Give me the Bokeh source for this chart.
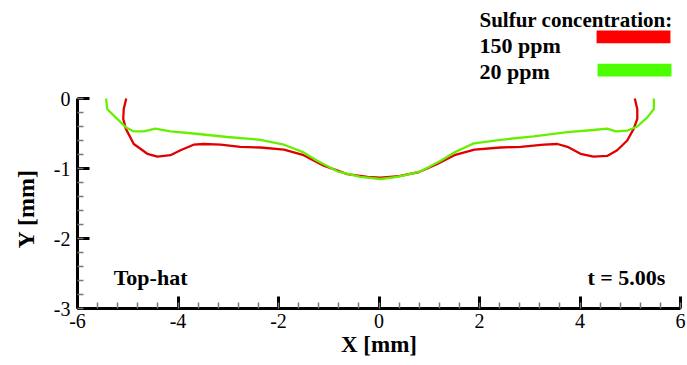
import math
from bokeh.plotting import figure
from bokeh.models import Range1d, SingleIntervalTicker, Label, CustomJSTickFormatter, Title
from bokeh.embed import file_html
from bokeh.resources import INLINE

# ---- data ----
red_x = [-5.03, -5.08, -5.09, -5.04, -4.88, -4.61, -4.41, -4.15, -3.95, -3.69, -3.49, -3.15, -2.76,
         -2.36, -1.89, -1.50, -1.10, -0.63, -0.23, 0.03, 0.40, 0.80, 1.15, 1.50, 1.90, 2.42, 2.82,
         3.28, 3.55, 3.75, 4.01, 4.27, 4.54, 4.74, 4.94, 5.07, 5.14, 5.14, 5.09]
red_y = [0.0, -0.15, -0.29, -0.43, -0.65, -0.79, -0.83, -0.81, -0.74, -0.66, -0.65, -0.66, -0.69,
         -0.70, -0.73, -0.81, -0.96, -1.08, -1.12, -1.13, -1.11, -1.05, -0.94, -0.81, -0.73, -0.70,
         -0.69, -0.66, -0.65, -0.69, -0.79, -0.83, -0.82, -0.74, -0.60, -0.43, -0.29, -0.15, 0.0]
green_x = [-5.43, -5.41, -5.24, -5.04, -4.88, -4.68, -4.45, -4.15, -3.69, -3.02, -2.36, -1.89, -1.50,
           -1.23, -0.83, -0.37, 0.03, 0.37, 0.83, 1.23, 1.50, 1.89, 2.42, 3.08, 3.75, 4.27, 4.54,
           4.71, 4.94, 5.14, 5.34, 5.47, 5.47]
green_y = [0.0, -0.15, -0.27, -0.41, -0.47, -0.47, -0.43, -0.47, -0.50, -0.55, -0.59, -0.66, -0.77,
           -0.89, -1.04, -1.12, -1.15, -1.12, -1.04, -0.89, -0.77, -0.64, -0.59, -0.54, -0.48, -0.45,
           -0.43, -0.47, -0.46, -0.40, -0.27, -0.15, 0.0]
series_names = ["150 ppm", "20 ppm"]
legend_title = "Sulfur concentration:"
x_title = "X [mm]"
y_title = "Y [mm]"
left_note = "Top-hat"
right_note = "t = 5.00s"

RED = "#ff0000"
GREEN = "#4cff00"
FONT = "Liberation Serif"

p = figure(width=687, height=365, output_backend="svg", toolbar_location=None,
           x_range=Range1d(-6, 6), y_range=Range1d(-3, 1.4), title=None,
           min_border_left=77, min_border_right=7, min_border_top=0, min_border_bottom=57)
p.outline_line_color = None
p.xgrid.visible = False
p.ygrid.visible = False
p.background_fill_color = "white"
p.border_fill_color = "white"

fmt = CustomJSTickFormatter(code="return String(Math.round(tick));")
for ax, interval in ((p.xaxis[0], 2), (p.yaxis[0], 1)):
    ax.ticker = SingleIntervalTicker(interval=interval, num_minor_ticks=5)
    ax.formatter = fmt
    ax.axis_line_width = 3
    ax.axis_line_color = "black"
    ax.major_tick_in = 12
    ax.major_tick_out = 0
    ax.major_tick_line_width = 3
    ax.minor_tick_in = 6
    ax.minor_tick_out = 0
    ax.minor_tick_line_width = 1.5
    ax.minor_tick_line_color = "#777777"
    ax.major_label_text_font = FONT
    ax.major_label_text_font_size = "20px"
    ax.major_label_text_color = "black"
p.yaxis[0].bounds = (-3, 0)
p.xaxis[0].bounds = (-6, 6)
p.xaxis[0].major_label_standoff = 5
p.yaxis[0].major_label_standoff = 7

# x axis title
xa = p.xaxis[0]
xa.axis_label = x_title
xa.axis_label_text_font = FONT
xa.axis_label_text_font_style = "bold"
xa.axis_label_text_font_size = "23px"
xa.axis_label_text_color = "black"
xa.axis_label_standoff = 1

# y axis title as a side title, shifted down along the axis
p.add_layout(Title(text=y_title, align="left", offset=60, vertical_align="top",
                   text_font=FONT, text_font_style="bold",
                   text_font_size="24px", text_color="black", standoff=20), "left")

p.line(red_x, red_y, line_color="#e00000", line_width=2.3)
p.line(green_x, green_y, line_color="#66f000", line_width=2.3)

# legend swatches
p.quad(left=[4.33], right=[5.80], top=[0.97], bottom=[0.79], fill_color=RED, line_color=None)
p.quad(left=[4.35], right=[5.82], top=[0.496], bottom=[0.314], fill_color=GREEN, line_color=None)

def lab(x, y, text, size="22px", align="left"):
    p.add_layout(Label(x=x, y=y, text=text, text_font=FONT, text_font_style="bold",
                       text_font_size=size, text_align=align, text_baseline="alphabetic",
                       text_color="black"))

lab(2.0, 1.124, legend_title, size="21px")
lab(2.0, 0.757, series_names[0])
lab(2.0, 0.39, series_names[1])
lab(-5.28, -2.553, left_note)
lab(5.70, -2.553, right_note, align="right")

open("out.html", "w").write(file_html(p, INLINE))
